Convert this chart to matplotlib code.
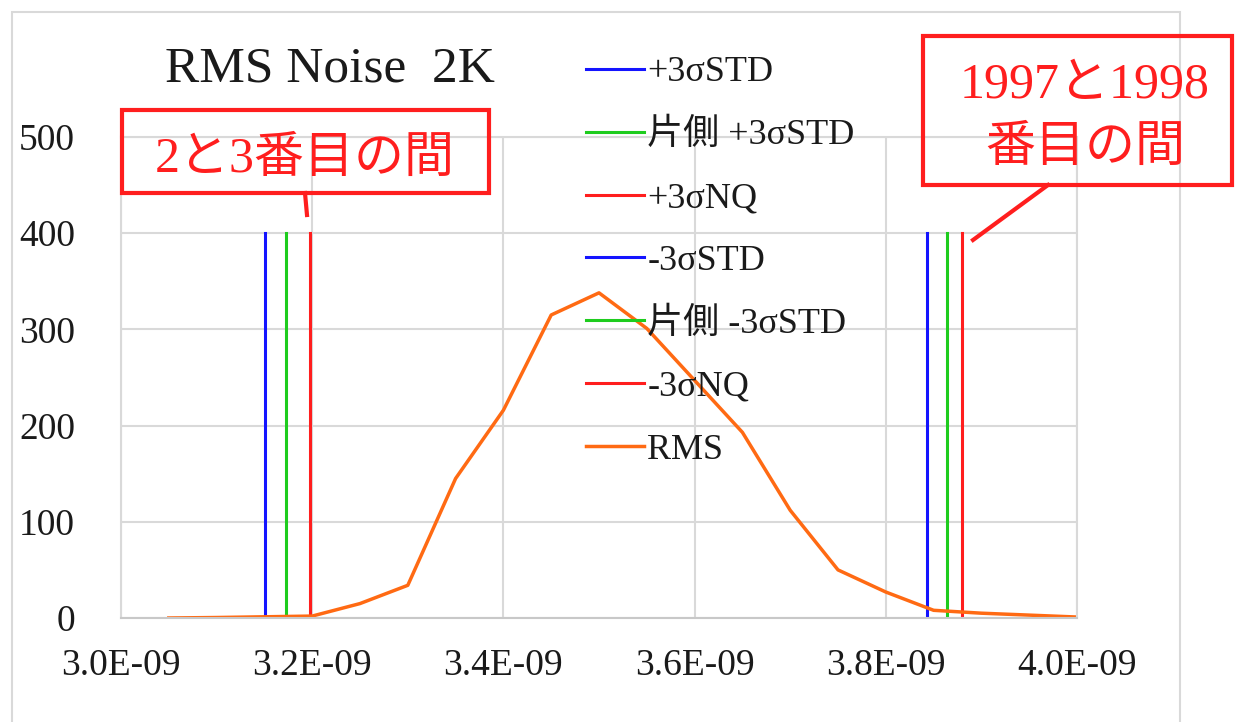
import matplotlib.pyplot as plt
from matplotlib.patches import Rectangle

plt.rcParams['font.family'] = ['Liberation Serif', 'Noto Sans CJK JP']

# RMS histogram
rms_x = [3.05e-9, 3.10e-9, 3.20e-9, 3.25e-9, 3.30e-9, 3.35e-9, 3.40e-9, 3.45e-9,
         3.50e-9, 3.55e-9, 3.60e-9, 3.65e-9, 3.70e-9, 3.75e-9, 3.80e-9, 3.85e-9,
         3.90e-9, 3.95e-9, 4.00e-9]
rms_y = [0, 0.5, 2, 15, 34, 145, 216, 315, 338, 301, 247, 193, 112, 50, 27, 8,
         5, 3, 1]

# threshold lines (x position, height)
plus_std = 3.151e-9
plus_std_one = 3.173e-9
plus_nq = 3.198e-9
minus_std = 3.843e-9
minus_std_one = 3.864e-9
minus_nq = 3.880e-9
line_top = 400

blue = '#1414ff'
green = '#1ecc1e'
red = '#ff1e1e'
orange = '#ff6a13'
grid_c = '#d9d9d9'

fig = plt.figure(figsize=(12.37, 7.22), dpi=100)
ax = fig.add_axes([121 / 1237, 1 - 618 / 722, 956 / 1237, 481 / 722])

lw = 2.2
ax.plot([plus_std, plus_std], [0, line_top], color=blue, lw=lw, label='+3σSTD')
ax.plot([plus_std_one, plus_std_one], [0, line_top], color=green, lw=lw, label='片側 +3σSTD')
ax.plot([plus_nq, plus_nq], [0, line_top], color=red, lw=lw, label='+3σNQ')
ax.plot([minus_std, minus_std], [0, line_top], color=blue, lw=lw, label='-3σSTD')
ax.plot([minus_std_one, minus_std_one], [0, line_top], color=green, lw=lw, label='片側 -3σSTD')
ax.plot([minus_nq, minus_nq], [0, line_top], color=red, lw=lw, label='-3σNQ')
ax.plot(rms_x, rms_y, color=orange, lw=2.5, label='RMS')

ax.set_xlim(3.0e-9, 4.0e-9)
ax.set_ylim(0, 500)
ax.set_xticks([3.0e-9, 3.2e-9, 3.4e-9, 3.6e-9, 3.8e-9, 4.0e-9])
ax.set_xticklabels(['3.0E-09', '3.2E-09', '3.4E-09', '3.6E-09', '3.8E-09', '4.0E-09'])
ax.set_yticks([0, 100, 200, 300, 400, 500])
ax.tick_params(axis='both', length=0, labelsize=27, colors='#1a1a1a')
ax.tick_params(axis='y', pad=33)
ax.tick_params(axis='x', pad=22)
ax.grid(True, color=grid_c, lw=1.5)
ax.set_axisbelow(True)
for sp in ax.spines.values():
    sp.set_color(grid_c)
    sp.set_linewidth(1.5)
ax.spines['bottom'].set_color('#c8c8c8')

ax.legend(loc='upper left', bbox_to_anchor=(586 / 1237, 1 - 56 / 722),
          bbox_transform=fig.transFigure, frameon=False, fontsize=26,
          handlelength=1.6, handletextpad=0.1, labelspacing=0.82,
          borderpad=0, borderaxespad=0, labelcolor='#1a1a1a')

fig.text(165 / 1237, 1 - 82 / 722, 'RMS Noise  2K', fontsize=37,
         va='baseline', ha='left', color='#1a1a1a')

# outer chart frame
fig.patches.append(Rectangle((12 / 1237, -0.05), 1168 / 1237, 1.05 - 12 / 722,
                             transform=fig.transFigure, fill=False,
                             ec='#d9d9d9', lw=1.5))

# callout boxes
fig.patches.append(Rectangle((122 / 1237, 1 - 193 / 722), 367 / 1237, 83 / 722,
                             transform=fig.transFigure, fill=False, ec=red, lw=3))
fig.lines.append(plt.Line2D([305 / 1237, 307 / 1237], [1 - 193 / 722, 1 - 215 / 722],
                            transform=fig.transFigure, color=red, lw=3))
fig.text(305 / 1237, 1 - 160 / 722, '2と3番目の間', fontsize=36, color=red,
         ha='center', va='center')

fig.patches.append(Rectangle((923 / 1237, 1 - 185 / 722), 309 / 1237, 149 / 722,
                             transform=fig.transFigure, fill=False, ec=red, lw=3))
fig.lines.append(plt.Line2D([1048 / 1237, 973 / 1237], [1 - 185 / 722, 1 - 240 / 722],
                            transform=fig.transFigure, color=red, lw=3))
fig.text(1085 / 1237, 1 - 117 / 722, '1997と1998\n番目の間', fontsize=36, color=red,
         ha='center', va='center', linespacing=1.47)

fig.savefig('out.png', dpi=100)
